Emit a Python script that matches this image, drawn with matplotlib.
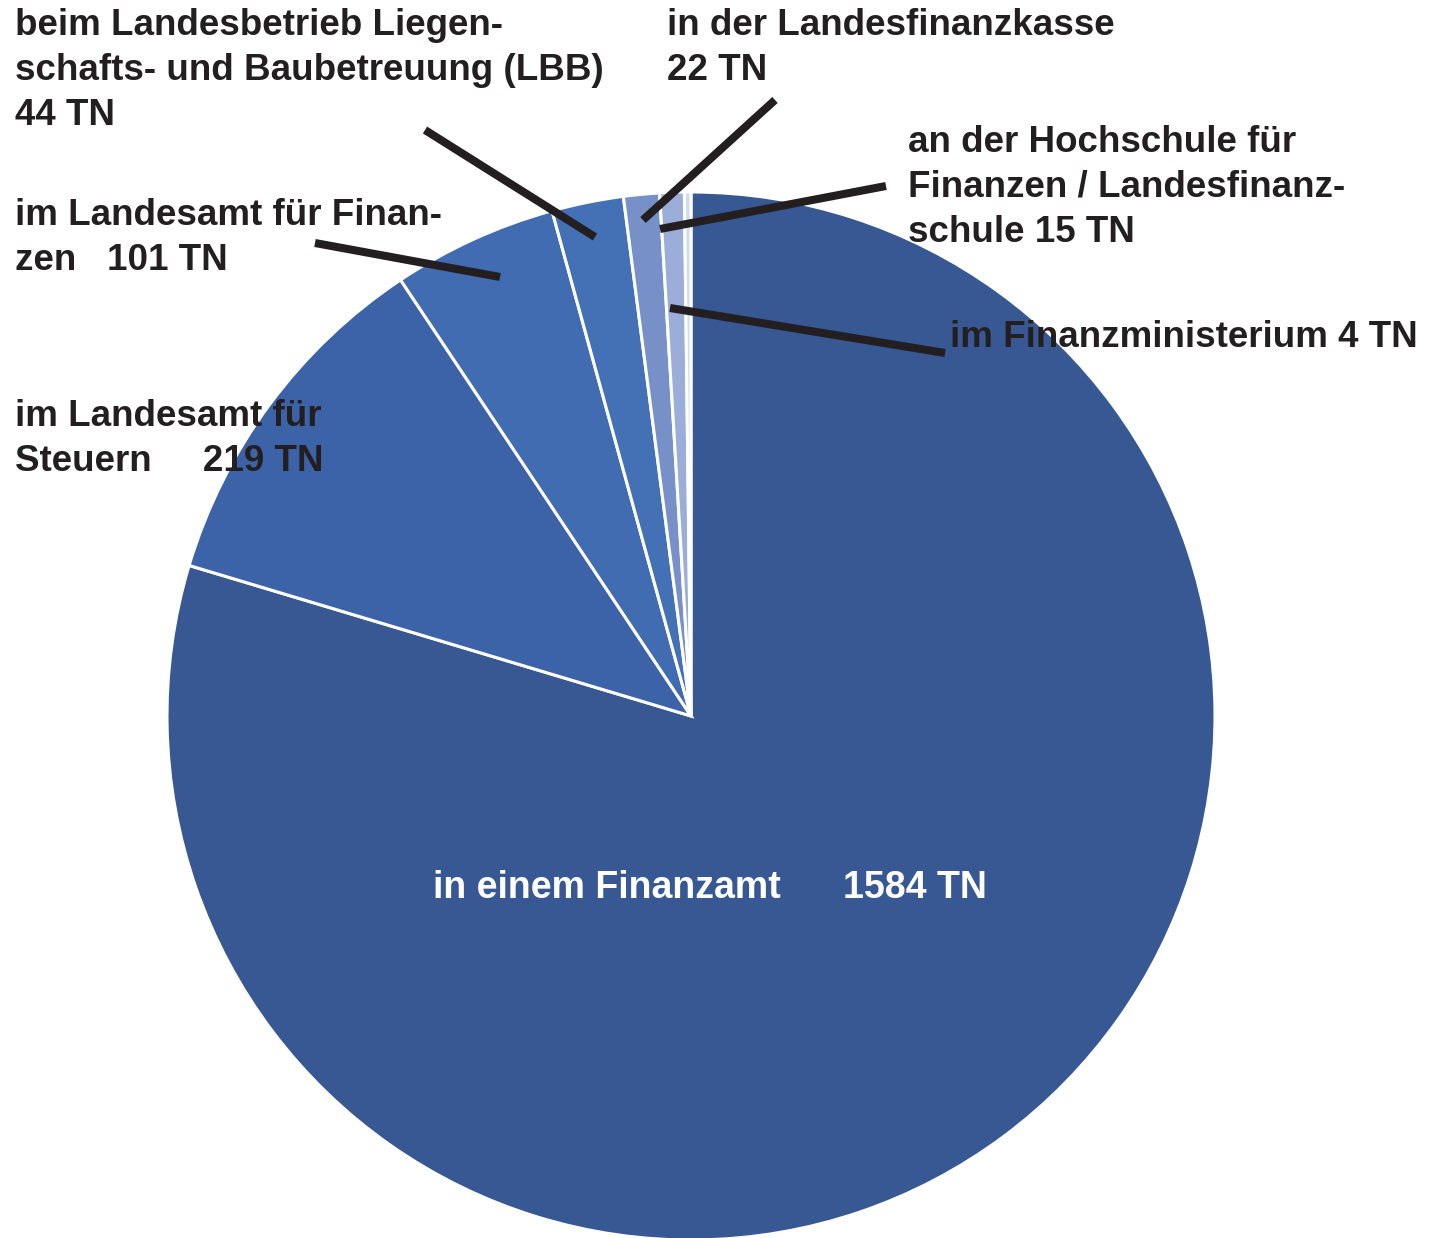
import matplotlib.pyplot as plt

plt.rcParams['font.family'] = ['Liberation Sans', 'DejaVu Sans']
plt.rcParams['font.weight'] = 'bold'

labels = ['in einem Finanzamt', 'im Landesamt für Steuern', 'im Landesamt für Finanzen',
          'LBB', 'Landesfinanzkasse', 'Hochschule', 'Finanzministerium']
values = [1584, 219, 101, 44, 22, 15, 4]
colors = ['#375893', '#3c62a8', '#416cb2', '#4470b6', '#7890c8', '#9aaed9', '#d0daf0']

# label text, anchor (x, y from top), leader line (x0, y0, x1, y1) or None
texts = [
    ('in einem Finanzamt      1584 TN', (710, 888), None),
    ('im Landesamt für\nSteuern     219 TN', (15, 399), None),
    ('im Landesamt für Finan-\nzen   101 TN', (15, 198), (315, 243, 500, 277)),
    ('beim Landesbetrieb Liegen-\nschafts- und Baubetreuung (LBB)\n44 TN', (15, 8), (425, 130, 595, 237)),
    ('in der Landesfinanzkasse\n22 TN', (667, 8), (775, 100, 643, 220)),
    ('an der Hochschule für\nFinanzen / Landesfinanz-\nschule 15 TN', (908, 125), (886, 186, 660, 229)),
    ('im Finanzministerium 4 TN', (950, 320), (670, 308, 945, 353)),
]

W, H = 1435, 1238
fig = plt.figure(figsize=(W / 100, H / 100), dpi=100)
ax = fig.add_axes([0, 0, 1, 1])

ax.pie(values, colors=colors, startangle=90, counterclock=False,
       center=(691, H - 716), radius=524, frame=True,
       wedgeprops=dict(edgecolor='white', linewidth=2.2))
ax.set_xlim(0, W)
ax.set_ylim(0, H)
ax.axis('off')

for i, (txt, (x, y), line) in enumerate(texts):
    if line is not None:
        x0, y0, x1, y1 = line
        ax.plot([x0, x1], [H - y0, H - y1], color='#231f20', lw=5.8,
                solid_capstyle='butt', zorder=5)
    if i == 0:
        ax.text(x, H - y, txt, color='white', fontsize=27, ha='center',
                va='center', zorder=6)
    else:
        ax.text(x, H - y, txt, color='#231f20', fontsize=26.5, ha='left',
                va='top', linespacing=1.37, zorder=6)

fig.savefig('out.png', dpi=100)
